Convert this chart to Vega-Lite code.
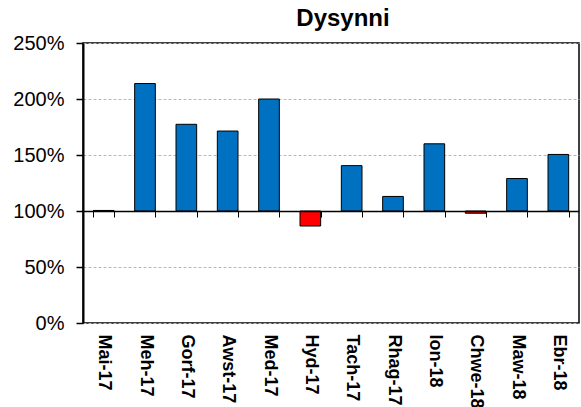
{
  "$schema": "https://vega.github.io/schema/vega-lite/v6.json",
  "autosize": {"type": "none"},
  "padding": {"left": 83, "top": 43, "right": 2, "bottom": 84},
  "width": 496,
  "height": 280,
  "background": "white",
  "title": {"text": "Dysynni", "fontSize": 24, "fontWeight": "bold", "font": "Liberation Sans", "color": "#000", "anchor": "middle", "dx": 12, "offset": 2},
  "config": {
    "view": {"stroke": "#000", "strokeWidth": 1.5},
    "font": "Liberation Sans"
  },
  "data": {"values": [
    {"month": "Mai-17", "v": 1.005},
    {"month": "Meh-17", "v": 2.138},
    {"month": "Gorf-17", "v": 1.774},
    {"month": "Awst-17", "v": 1.714},
    {"month": "Med-17", "v": 2.0},
    {"month": "Hyd-17", "v": 0.866},
    {"month": "Tach-17", "v": 1.405},
    {"month": "Rhag-17", "v": 1.13},
    {"month": "Ion-18", "v": 1.60},
    {"month": "Chwe-18", "v": 0.98},
    {"month": "Maw-18", "v": 1.29},
    {"month": "Ebr-18", "v": 1.505}
  ]},
  "mark": {"type": "bar", "stroke": "#000", "strokeWidth": 1},
  "encoding": {
    "x": {"field": "month", "type": "nominal", "sort": null,
          "scale": {"paddingInner": 0.5, "paddingOuter": 0.25},
          "axis": {"title": null, "offset": -112, "tickBand": "extent", "domainColor": "#000", "domainWidth": 1.5,
                   "tickColor": "#000", "tickSize": 6, "tickWidth": 1, "zindex": 2,
                   "labelAngle": 90, "labelFontSize": 18, "labelFontWeight": "bold", "labelColor": "#000", "labelPadding": 117, "labelFont": "Liberation Sans"}},
    "y": {"field": "v", "type": "quantitative",
          "scale": {"domain": [0, 2.5], "nice": false, "zero": true},
          "axis": {"title": null, "format": ".0%", "values": [0, 0.5, 1, 1.5, 2, 2.5],
                   "domainColor": "#000", "domainWidth": 2, "tickColor": "#000", "tickSize": 7, "tickWidth": 1.5,
                   "labelFontSize": 20, "labelColor": "#000", "labelPadding": 12, "labelFont": "Liberation Sans",
                   "grid": true, "gridColor": "#b8b8b8", "gridDash": [3, 2], "gridWidth": 1}},
    "y2": {"datum": 1},
    "color": {"condition": {"test": "datum.v < 1", "value": "#FF0000"}, "value": "#0070C0"}
  }
}
